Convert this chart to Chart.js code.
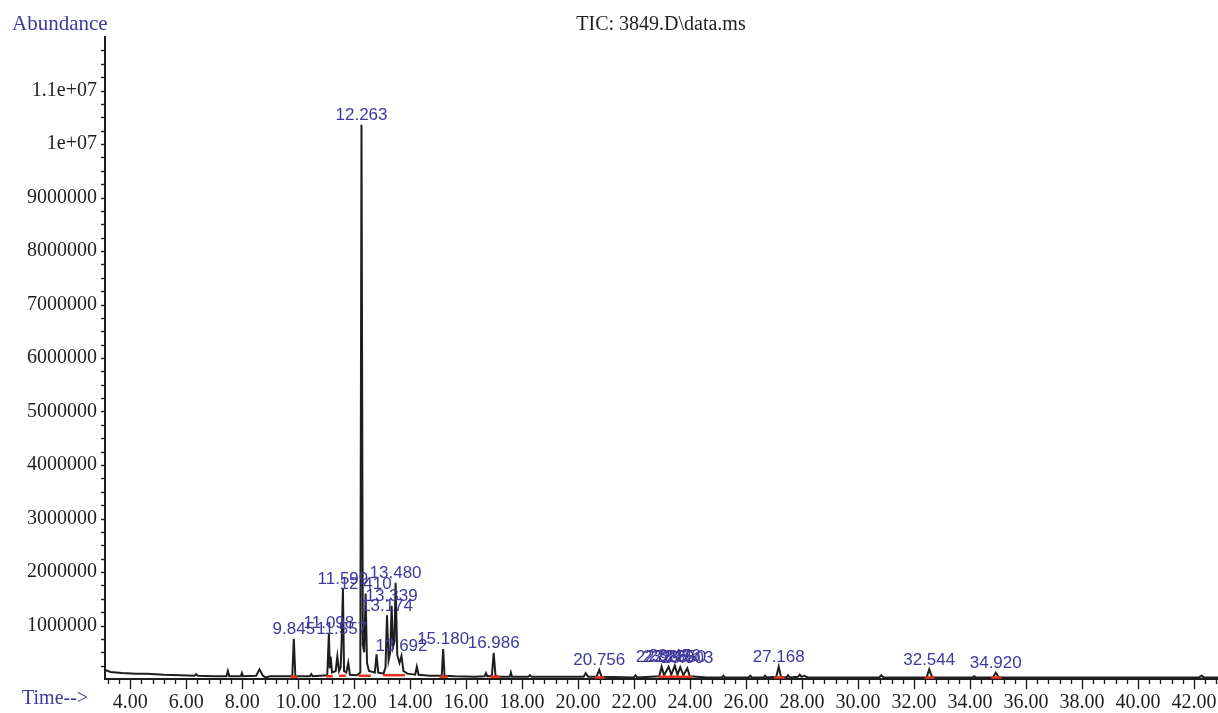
<!DOCTYPE html>
<html>
<head>
<meta charset="utf-8">
<title>TIC: 3849.D\data.ms</title>
<script src="https://cdn.jsdelivr.net/npm/chart.js@4.4.0/dist/chart.umd.min.js"></script>
<style>
  html, body { margin: 0; padding: 0; background: #fff; }
  #tic { display: block; }
</style>
</head>
<body>
<canvas id="tic" width="1218" height="713"></canvas>
<script>
// retention time (min) of each point on the TIC trace
const times = [
  3.10, 3.30, 3.70, 4.20, 4.60, 5.20, 5.80, 6.30, 6.35, 6.42,
  7.00, 7.44, 7.49, 7.54, 7.95, 7.99, 8.03, 8.50, 8.62, 8.74,
  8.85, 9.00, 9.79, 9.845, 9.90, 10.42, 10.47, 10.52, 11.04, 11.098,
  11.13, 11.16, 11.21, 11.34, 11.40, 11.46, 11.52, 11.557, 11.599, 11.64,
  11.72, 11.79, 11.85, 12.10, 12.22, 12.263, 12.31, 12.36, 12.41, 12.46,
  12.53, 12.74, 12.80, 12.86, 13.05, 13.12, 13.174, 13.23, 13.29, 13.339,
  13.39, 13.44, 13.48, 13.54, 13.62, 13.692, 13.76, 13.90, 14.18, 14.24,
  14.30, 14.70, 15.13, 15.18, 15.23, 15.60, 16.30, 16.66, 16.71, 16.76,
  16.92, 16.986, 17.05, 17.20, 17.56, 17.60, 17.64, 18.22, 18.28, 18.34,
  19.60, 20.20, 20.27, 20.36, 20.66, 20.756, 20.84, 21.99, 22.05, 22.11,
  22.90, 22.985, 23.07, 23.235, 23.33, 23.456, 23.55, 23.65, 23.76, 23.903,
  23.99, 24.60, 25.14, 25.19, 25.25, 26.10, 26.15, 26.21, 26.63, 26.68,
  26.74, 27.08, 27.168, 27.25, 27.45, 27.50, 27.56, 27.86, 27.92, 27.98,
  28.08, 28.20, 30.76, 30.83, 30.92, 32.45, 32.544, 32.65, 34.10, 34.15,
  34.20, 34.82, 34.92, 35.03, 42.18, 42.27, 42.36, 42.86
];

// abundance at each of those times, in millions of counts
const abundance = [
  0.17, 0.13, 0.11, 0.10, 0.10, 0.08, 0.07, 0.06, 0.09, 0.06,
  0.05, 0.05, 0.15, 0.05, 0.05, 0.11, 0.05, 0.06, 0.18, 0.06,
  0.03, 0.05, 0.05, 0.75, 0.05, 0.05, 0.09, 0.05, 0.07, 0.86,
  0.20, 0.42, 0.12, 0.15, 0.42, 0.15, 0.22, 0.76, 1.68, 0.15,
  0.12, 0.30, 0.08, 0.07, 0.12, 10.36, 0.65, 0.50, 1.60, 0.30,
  0.15, 0.12, 0.46, 0.12, 0.10, 0.22, 1.19, 0.35, 0.50, 1.37,
  0.60, 0.70, 1.80, 0.45, 0.30, 0.43, 0.15, 0.10, 0.08, 0.23,
  0.08, 0.06, 0.06, 0.56, 0.06, 0.05, 0.04, 0.05, 0.11, 0.05,
  0.06, 0.49, 0.06, 0.04, 0.04, 0.12, 0.04, 0.04, 0.07, 0.04,
  0.04, 0.04, 0.11, 0.04, 0.04, 0.17, 0.04, 0.03, 0.07, 0.03,
  0.05, 0.23, 0.07, 0.23, 0.08, 0.25, 0.08, 0.22, 0.07, 0.20,
  0.05, 0.03, 0.03, 0.06, 0.03, 0.03, 0.06, 0.03, 0.03, 0.06,
  0.03, 0.04, 0.23, 0.04, 0.03, 0.07, 0.03, 0.04, 0.08, 0.04,
  0.06, 0.03, 0.03, 0.07, 0.03, 0.03, 0.18, 0.03, 0.03, 0.05,
  0.03, 0.03, 0.12, 0.03, 0.03, 0.06, 0.03, 0.03
];

// labelled peaks (apex retention times)
const peakLabels = [
  '9.845', '11.098', '11.557', '11.599', '12.263', '12.410', '13.174',
  '13.339', '13.480', '13.692', '15.180', '16.986', '20.756', '22.985',
  '23.235', '23.456', '23.650', '23.903', '27.168', '32.544', '34.920'
];

// integration baselines (red marks): start, end, level in millions
const intStart = [9.74, 11.00, 11.46, 12.16, 13.03, 15.05, 16.86, 20.60, 22.88, 27.00, 32.38, 34.76];
const intEnd   = [9.97, 11.24, 11.70, 12.60, 13.82, 15.35, 17.22, 20.94, 24.07, 27.38, 32.74, 35.12];
const intLevel = [0.04, 0.05, 0.06, 0.06, 0.07, 0.04, 0.04, 0.03, 0.04, 0.03, 0.03, 0.03];

// axis labels
const xTickValues = [4, 6, 8, 10, 12, 14, 16, 18, 20, 22, 24, 26, 28, 30, 32, 34, 36, 38, 40, 42];
const xTickLabels = ['4.00', '6.00', '8.00', '10.00', '12.00', '14.00', '16.00', '18.00', '20.00', '22.00',
  '24.00', '26.00', '28.00', '30.00', '32.00', '34.00', '36.00', '38.00', '40.00', '42.00'];
const yTickValues = [1e6, 2e6, 3e6, 4e6, 5e6, 6e6, 7e6, 8e6, 9e6, 1e7, 1.1e7];
const yTickLabels = ['1000000', '2000000', '3000000', '4000000', '5000000', '6000000',
  '7000000', '8000000', '9000000', '1e+07', '1.1e+07'];

const INK = '#1e1e1e';
const BLUE = '#3d3a9c';
const SERIF = "'Liberation Serif', 'Times New Roman', serif";
const SANS = "'Liberation Sans', Arial, sans-serif";

// build point lists for chart.js
const tracePoints = times.map((t, i) => ({ x: t, y: abundance[i] * 1e6 }));
const intPoints = [];
for (let i = 0; i < intStart.length; i++) {
  intPoints.push({ x: intStart[i], y: intLevel[i] * 1e6 });
  intPoints.push({ x: intEnd[i], y: intLevel[i] * 1e6 });
  intPoints.push({ x: intEnd[i], y: null });
}

// tick marks, peak labels and the header texts
const decorPlugin = {
  id: 'ticDecor',
  afterDraw(chart) {
    const { ctx, chartArea, scales: { x, y } } = chart;
    ctx.save();

    // x tick marks every 0.4 min, long ones at the labels
    ctx.strokeStyle = INK;
    ctx.lineWidth = 1.4;
    for (let i = 8; i <= 107; i++) {
      const px = Math.round(x.getPixelForValue(i * 0.4)) + 0.5;
      const len = (i % 5 === 0) ? 10 : 5;
      ctx.beginPath();
      ctx.moveTo(px, chartArea.bottom);
      ctx.lineTo(px, chartArea.bottom + len);
      ctx.stroke();
    }
    // y tick marks every 250000
    for (let i = 1; i <= 47; i++) {
      const py = Math.round(y.getPixelForValue(i * 250000)) + 0.5;
      ctx.beginPath();
      ctx.moveTo(chartArea.left - 4, py);
      ctx.lineTo(chartArea.left, py);
      ctx.stroke();
    }

    // peak labels above each apex
    ctx.fillStyle = BLUE;
    ctx.font = '17px ' + SANS;
    ctx.textAlign = 'center';
    ctx.textBaseline = 'bottom';
    peakLabels.forEach(lbl => {
      const t = parseFloat(lbl);
      const idx = times.findIndex(v => Math.abs(v - t) < 1e-6);
      if (idx < 0) return;
      const px = x.getPixelForValue(t);
      const py = y.getPixelForValue(abundance[idx] * 1e6);
      ctx.fillText(lbl, px, py - 1);
    });

    // header and axis captions
    ctx.textBaseline = 'alphabetic';
    ctx.font = '21px ' + SERIF;
    ctx.textAlign = 'left';
    ctx.fillStyle = BLUE;
    ctx.fillText('Abundance', 12, 30);
    ctx.font = '20px ' + SERIF;
    ctx.fillText('Time-->', 22, 704);
    ctx.fillStyle = INK;
    ctx.textAlign = 'center';
    ctx.fillText('TIC: 3849.D\\data.ms', 661, 30);
    ctx.restore();
  }
};

new Chart(document.getElementById('tic'), {
  type: 'line',
  data: {
    datasets: [
      {
        label: 'integration',
        data: intPoints,
        borderColor: '#e8321e',
        borderWidth: 2.5,
        pointRadius: 0,
        spanGaps: false,
        tension: 0
      },
      {
        label: 'TIC',
        data: tracePoints,
        borderColor: INK,
        borderWidth: 2,
        pointRadius: 0,
        tension: 0
      }
    ]
  },
  options: {
    responsive: false,
    animation: false,
    devicePixelRatio: 1,
    layout: { padding: { top: 37, right: 0, left: 0, bottom: 0 } },
    plugins: {
      legend: { display: false },
      tooltip: { enabled: false }
    },
    scales: {
      x: {
        type: 'linear',
        min: 3.10,
        max: 42.86,
        grid: { display: false, drawTicks: false },
        border: { display: true, color: INK, width: 2 },
        afterBuildTicks: axis => { axis.ticks = xTickValues.map(v => ({ value: v })); },
        afterFit: axis => {
          axis.height = 34;
          axis.paddingLeft = 0;
          axis.paddingRight = 0;
        },
        ticks: {
          autoSkip: false,
          maxRotation: 0,
          padding: 12,
          color: INK,
          font: { family: SERIF, size: 20 },
          callback: v => {
            const k = xTickValues.indexOf(v);
            return k >= 0 ? xTickLabels[k] : '';
          }
        }
      },
      y: {
        min: 0,
        max: 1.2e7,
        grid: { display: false, drawTicks: false },
        border: { display: true, color: INK, width: 2 },
        afterBuildTicks: axis => { axis.ticks = yTickValues.map(v => ({ value: v })); },
        afterFit: axis => {
          axis.width = 105;
          axis.paddingTop = 0;
          axis.paddingBottom = 0;
        },
        ticks: {
          autoSkip: false,
          padding: 8,
          color: INK,
          font: { family: SERIF, size: 20 },
          callback: v => {
            const k = yTickValues.indexOf(v);
            return k >= 0 ? yTickLabels[k] : '';
          }
        }
      }
    }
  },
  plugins: [decorPlugin]
});
</script>
</body>
</html>
